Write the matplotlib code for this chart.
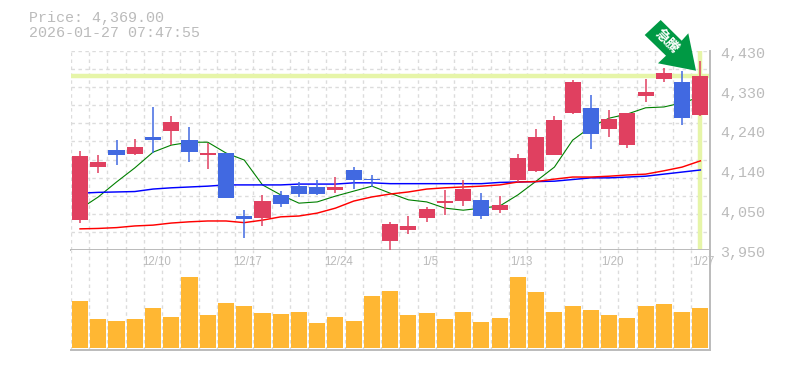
import matplotlib
matplotlib.use('Agg')
from matplotlib import pyplot as plt
from matplotlib.patches import Polygon, Rectangle

# ============= values =============================================
opens = [4022, 4150, 4191, 4182, 4223, 4237, 4215, 4179, 4184, 4032, 4027, 4083, 4104, 4102, 4095, 4143, 4121, 3972,
         3998, 4027, 4063, 4068, 4071, 4046, 4119, 4141, 4179, 4280, 4293, 4242, 4203, 4321, 4362, 4355, 4276]
closes = [4177, 4162, 4179, 4198, 4215, 4259, 4186, 4184, 4075, 4025, 4068, 4061, 4085, 4085, 4102, 4119, 4119, 4013,
          4008, 4049, 4068, 4097, 4032, 4059, 4172, 4223, 4264, 4355, 4230, 4266, 4280, 4331, 4377, 4268, 4369]
highs = [4189, 4179, 4215, 4218, 4295, 4273, 4247, 4208, 4184, 4046, 4083, 4092, 4114, 4119, 4126, 4150, 4131, 4018,
         4032, 4054, 4095, 4119, 4087, 4080, 4182, 4242, 4273, 4360, 4324, 4288, 4280, 4362, 4389, 4382, 4406]
lows = [4015, 4136, 4155, 4179, 4184, 4203, 4162, 4145, 4075, 3979, 4008, 4054, 4078, 4083, 4087, 4097, 4102, 3948,
        3989, 4018, 4034, 4056, 4025, 4039, 4114, 4138, 4179, 4278, 4194, 4223, 4196, 4307, 4355, 4251, 4273]

ma_short = [4049, 4078, 4114, 4148, 4186, 4203, 4210, 4210, 4184, 4167, 4107, 4083, 4063, 4066, 4080, 4092, 4104, 4087,
            4071, 4066, 4051, 4046, 4051, 4056, 4083, 4116, 4150, 4215, 4247, 4268, 4278, 4293, 4295, 4305, 4319]
ma_mid = [4087, 4089, 4090, 4091, 4097, 4100, 4102, 4104, 4107, 4107, 4107, 4107, 4109, 4109, 4109, 4112, 4112, 4110,
          4110, 4110, 4110, 4110, 4110, 4113, 4114, 4115, 4116, 4120, 4124, 4124, 4126, 4128, 4133, 4138, 4143]
ma_long = [4001, 4002, 4004, 4008, 4010, 4015, 4018, 4020, 4020, 4016, 4022, 4030, 4032, 4039, 4051, 4068, 4078, 4085,
           4090, 4097, 4100, 4102, 4104, 4107, 4114, 4115, 4121, 4126, 4126, 4128, 4131, 4133, 4141, 4150, 4165]

volumes = [470, 290, 270, 290, 400, 310, 710, 330, 450, 420, 350, 340, 360, 250, 310, 270, 520, 570,
           330, 350, 290, 360, 260, 300, 710, 560, 360, 420, 380, 330, 300, 420, 440, 360, 400]

date_ticks = [4, 9, 14, 19, 24, 29, 34]
date_labels = ['12/10', '12/17', '12/24', '1/5', '1/13', '1/20', '1/27']
price_ticks = [4430, 4334, 4238, 4142, 4046, 3950]
price_labels = ['4,430', '4,330', '4,240', '4,140', '4,050', '3,950']
last_price = 4369
title_lines = ['Price: 4,369.00', '2026-01-27 07:47:55']
arrow_text = '急騰'

W, H = 785, 370
UP = '#e04060'
DOWN = '#4169e1'
GREY = '#bbbbbb'
GRID = '#dcdcdc'
HILITE = '#e6f5a8'
MONO = 'Liberation Mono'


def px_axes(left, top, right, bottom):
    return [left / W, 1 - bottom / H, (right - left) / W, (bottom - top) / H]


fig = plt.figure(figsize=(W / 100, H / 100), dpi=100, facecolor='white')
ax = fig.add_axes(px_axes(70.9, 51, 709.5, 250))
ax_vol = fig.add_axes(px_axes(70.9, 250, 709.5, 350))

n = len(closes)
for a in (ax, ax_vol):
    a.set_xlim(-0.5, n - 0.5)
    a.set_xticks([i - 0.5 for i in range(n + 1)])
    a.tick_params(length=0, labelbottom=False, labelleft=False)
    a.grid(True, axis='x', color=GRID, lw=1, ls=(0, (2.5, 2.5)))
    a.set_axisbelow(True)
    for side in a.spines:
        a.spines[side].set_visible(False)
    a.spines['right'].set_visible(True)
    a.spines['right'].set_color(GREY)
    a.spines['bottom'].set_visible(True)
    a.spines['bottom'].set_color(GREY)
    a.spines['bottom'].set_linewidth(1.4)
    a.spines['right'].set_linewidth(1.4)

# ---- price panel
ax.set_ylim(3950, 4430)
ax.set_yticks([3950 + 480 * i / 11 for i in range(12)])
ax.grid(True, axis='y', color=GRID, lw=1, ls=(0, (2.5, 2.5)))

ax.axhline(last_price, color=HILITE, lw=3.2, zorder=1)
ax.axvline(n - 1, color=HILITE, lw=3.2, zorder=1)

xs = list(range(n))
ax.plot(xs, ma_short, color='#008000', lw=0.8, zorder=2)
ax.plot(xs, ma_mid, color='#0000ff', lw=1.05, zorder=2)
ax.plot(xs, ma_long, color='#ff0000', lw=1.05, zorder=2)

for i in range(n):
    c = UP if closes[i] >= opens[i] else DOWN
    ax.vlines(i, lows[i], highs[i], color=c, lw=1.1, zorder=3)
    ax.add_patch(Rectangle((i - 0.44, min(opens[i], closes[i])), 0.88, abs(closes[i] - opens[i]),
                           facecolor=c, edgecolor='none', zorder=4))

for t, l in zip(price_ticks, price_labels):
    ax.annotate(l, (1, t), xycoords=ax.get_yaxis_transform(), xytext=(7.5, -2), textcoords='offset points',
                ha='left', va='center', family=MONO, fontsize=10.8, color=GREY, annotation_clip=False)

# ---- volume panel
ax_vol.set_ylim(-20, 980)
ax_vol.bar(xs, volumes, width=0.88, color='#ffb733', zorder=3)
for t, l in zip(date_ticks, date_labels):
    ax_vol.annotate(l, (t, 1), xycoords=ax_vol.get_xaxis_transform(), xytext=(2.5, -8.6), textcoords='offset points',
                    ha='center', va='center', family='Liberation Sans', fontsize=8.3, color=GREY, zorder=5)

# ---- header
fig.text(29 / W, 1 - 18 / H, title_lines[0], family=MONO, fontsize=10.8, color=GREY, va='center')
fig.text(29 / W, 1 - 33 / H, title_lines[1], family=MONO, fontsize=10.8, color=GREY, va='center')

# ---- green arrow pointing at the last candle
outline = [(644.7, 35), (660.7, 20), (681.7, 40.7), (688.3, 33.3), (696, 70.7), (658, 63.3), (666, 55.7)]
fig.add_artist(Polygon([(x / W, 1 - y / H) for x, y in outline], closed=True, transform=fig.transFigure,
                       facecolor='#009944', edgecolor='none', zorder=10))
fig.text(666.5 / W, 1 - 41 / H, arrow_text, family=['Noto Sans CJK JP', 'DejaVu Sans'], fontsize=10, color='white',
         fontweight='bold', rotation=-45, rotation_mode='anchor', ha='center', va='center', zorder=11)

fig.savefig('out.png', dpi=100)
